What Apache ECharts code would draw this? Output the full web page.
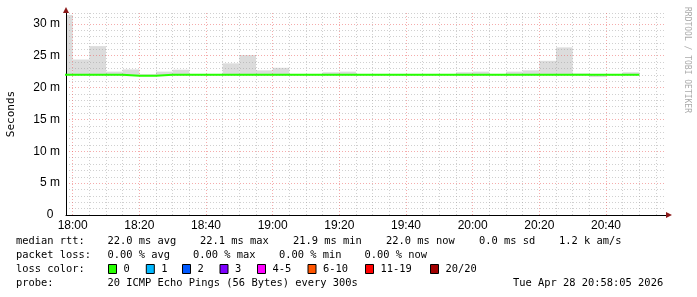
<!DOCTYPE html>
<html><head><meta charset="utf-8">
<script src="https://cdn.jsdelivr.net/npm/echarts@6/dist/echarts.min.js"></script>
<style>html,body{margin:0;padding:0;background:#fff}#c{width:697px;height:297px}</style>
</head><body><div id="c"></div>
<script>
// Step start times in minutes relative to 18:00 (5-minute steps)
const stepStart = [-5,0,5,10,15,20,25,30,35,40,45,50,55,60,65,70,75,80,85,90,95,100,105,110,115,120,125,130,135,140,145,150,155,160,165];
const stepMinutes = 5;
// median rtt (ms)
const medianMs = [22.0,22.0,22.0,22.0,21.85,21.85,22.0,22.0,22.0,22.0,22.0,22.0,22.0,22.0,22.0,22.0,22.0,22.0,22.0,22.0,22.0,22.0,22.0,22.0,22.0,22.0,22.0,22.0,22.0,22.0,22.0,22.0,22.0,22.0,22.0];
// smoke: lowest and highest ping (ms)
const smokeMinMs = [21.9,21.9,21.9,21.9,21.8,21.8,21.9,21.9,21.9,21.9,21.9,21.9,21.9,21.9,21.9,21.9,21.9,21.9,21.9,21.9,21.9,21.9,21.9,21.9,21.9,21.9,21.9,21.9,21.9,21.9,21.9,21.9,21.65,21.9,21.9];
const smokeMaxMs = [31.4,24.4,26.5,22.5,22.85,22.1,22.5,22.8,22.1,22.1,23.8,25.1,22.7,23.1,22.1,22.1,22.4,22.5,22.1,22.1,22.1,22.1,22.1,22.1,22.4,22.5,22.1,22.5,22.7,24.2,26.3,22.2,22.1,22.1,22.4];
// axis ticks
const xLabelValues = [0,20,40,60,80,100,120,140,160];
const xLabels = ['18:00','18:20','18:40','19:00','19:20','19:40','20:00','20:20','20:40'];
const xGridValues = [0,5,10,15,20,25,30,35,40,45,50,55,60,65,70,75,80,85,90,95,100,105,110,115,120,125,130,135,140,145,150,155,160,165,170,175];
const yLabelValues = [0,5,10,15,20,25,30];
const yLabels = ['0  ','5 m','10 m','15 m','20 m','25 m','30 m'];
// legend texts
const rttStats = ['22.0 ms avg','22.1 ms max','21.9 ms min','22.0 ms now','0.0 ms sd','1.2 k am/s'];
const lossStats = ['0.00 % avg','0.00 % max','0.00 % min','0.00 % now'];
const lossLabels = ['0','1','2','3','4-5','6-10','11-19','20/20'];
const lossColors = ['#26ff00','#00b8ff','#0059ff','#7e00ff','#ff00ff','#ff5500','#ff0000','#a10000'];
const probeText = '20 ICMP Echo Pings (56 Bytes) every 300s';
const stampText = 'Tue Apr 28 20:58:05 2026';

const FONT = '"DejaVu Sans Mono", monospace';
const medianData = [];
stepStart.forEach((t,i)=>{ medianData.push([t, medianMs[i]]); medianData.push([t+stepMinutes, medianMs[i]]); });
const smokeData = stepStart.map((t,i)=>[t, t+stepMinutes, smokeMinMs[i], smokeMaxMs[i]]);

const MINOR = 'rgba(150,150,150,0.45)';
const MAJOR = 'rgba(235,90,90,0.5)';

const graphic = [];
function txt(x,y,s,opt){
  graphic.push(Object.assign({type:'text',x:x,y:y,style:{text:s,font:'10.4px '+FONT,fill:'#000',textVerticalAlign:'middle'}},opt||{}));
}
txt(16,241,'median rtt:');
[107.5,200,293,386,479,559].forEach((x,i)=>txt(x,241,rttStats[i]));
txt(16,255,'packet loss:');
[107.5,193,279,364.5].forEach((x,i)=>txt(x,255,lossStats[i]));
txt(16,269,'loss color:');
[108,145.8,182,219.5,257,307.5,365,430].forEach((x,i)=>{
  graphic.push({type:'rect',shape:{x:x+0.5,y:264.5,width:8,height:9},style:{fill:lossColors[i],stroke:'#000',lineWidth:1}});
  txt(x+15.5,269,lossLabels[i]);
});
txt(16,283,'probe:');
txt(107.5,283,probeText);
txt(513,283,stampText);
graphic.push({type:'text',x:11,y:114,rotation:Math.PI/2,style:{text:'Seconds',font:'11px '+FONT,fill:'#000',textAlign:'center',textVerticalAlign:'middle'}});
graphic.push({type:'text',x:687,y:60,rotation:-Math.PI/2,style:{text:'RRDTOOL / TOBI OETIKER',font:'8px '+FONT,fill:'#aaa',textAlign:'center',textVerticalAlign:'middle'}});
graphic.push({type:'polygon',shape:{points:[[666,212],[666,218],[672,215]]},style:{fill:'#8b1a1a'},z:10});
graphic.push({type:'polygon',shape:{points:[[63,13],[69,13],[66,7]]},style:{fill:'#8b1a1a'},z:10});

const chart = echarts.init(document.getElementById('c'), null, {renderer:'canvas'});
chart.setOption({
  backgroundColor:'#fff',
  animation:false,
  grid:{left:66, top:13, width:600, height:202},
  xAxis:{
    type:'value', min:-2, max:178, z:2,
    axisLine:{show:true,onZero:false,lineStyle:{color:'#000',width:1}},
    axisTick:{show:false, customValues:xGridValues},
    axisLabel:{customValues:xLabelValues, formatter:v=>xLabels[xLabelValues.indexOf(v)]||'', font:'10px '+FONT, color:'#000', margin:5},
    splitLine:{show:true, lineStyle:{color:[MAJOR,MINOR,MINOR,MINOR], type:[1,2], width:1}}
  },
  yAxis:{
    type:'value', min:0, max:31.7, interval:1, z:2,
    axisLine:{show:true,onZero:false,lineStyle:{color:'#000',width:1}},
    axisTick:{show:false},
    axisLabel:{customValues:yLabelValues, formatter:v=>yLabels[yLabelValues.indexOf(v)]||'', font:'10px '+FONT, color:'#000', margin:6},
    splitLine:{show:true, lineStyle:{color:[MAJOR,MINOR,MINOR,MINOR,MINOR], type:[1,2], width:1}}
  },
  graphic:graphic,
  series:[
    {type:'custom', name:'smoke', z:1, silent:true, clip:true,
     encode:{x:[0,1], y:[2,3]},
     renderItem:function(params, api){
       const p0 = api.coord([api.value(0), api.value(3)]);
       const p1 = api.coord([api.value(1), api.value(2)]);
       const rect = echarts.graphic.clipRectByRect(
         {x:p0[0], y:p0[1], width:p1[0]-p0[0], height:p1[1]-p0[1]},
         {x:params.coordSys.x, y:params.coordSys.y, width:params.coordSys.width, height:params.coordSys.height});
       return rect && {type:'rect', shape:rect, style:{fill:'#dcdcdc'}};
     },
     data:smokeData},
    {type:'line', name:'median', z:3, showSymbol:false, silent:true, clip:true,
     lineStyle:{width:2,color:'#26ff00'}, data:medianData}
  ]
});
</script></body></html>
